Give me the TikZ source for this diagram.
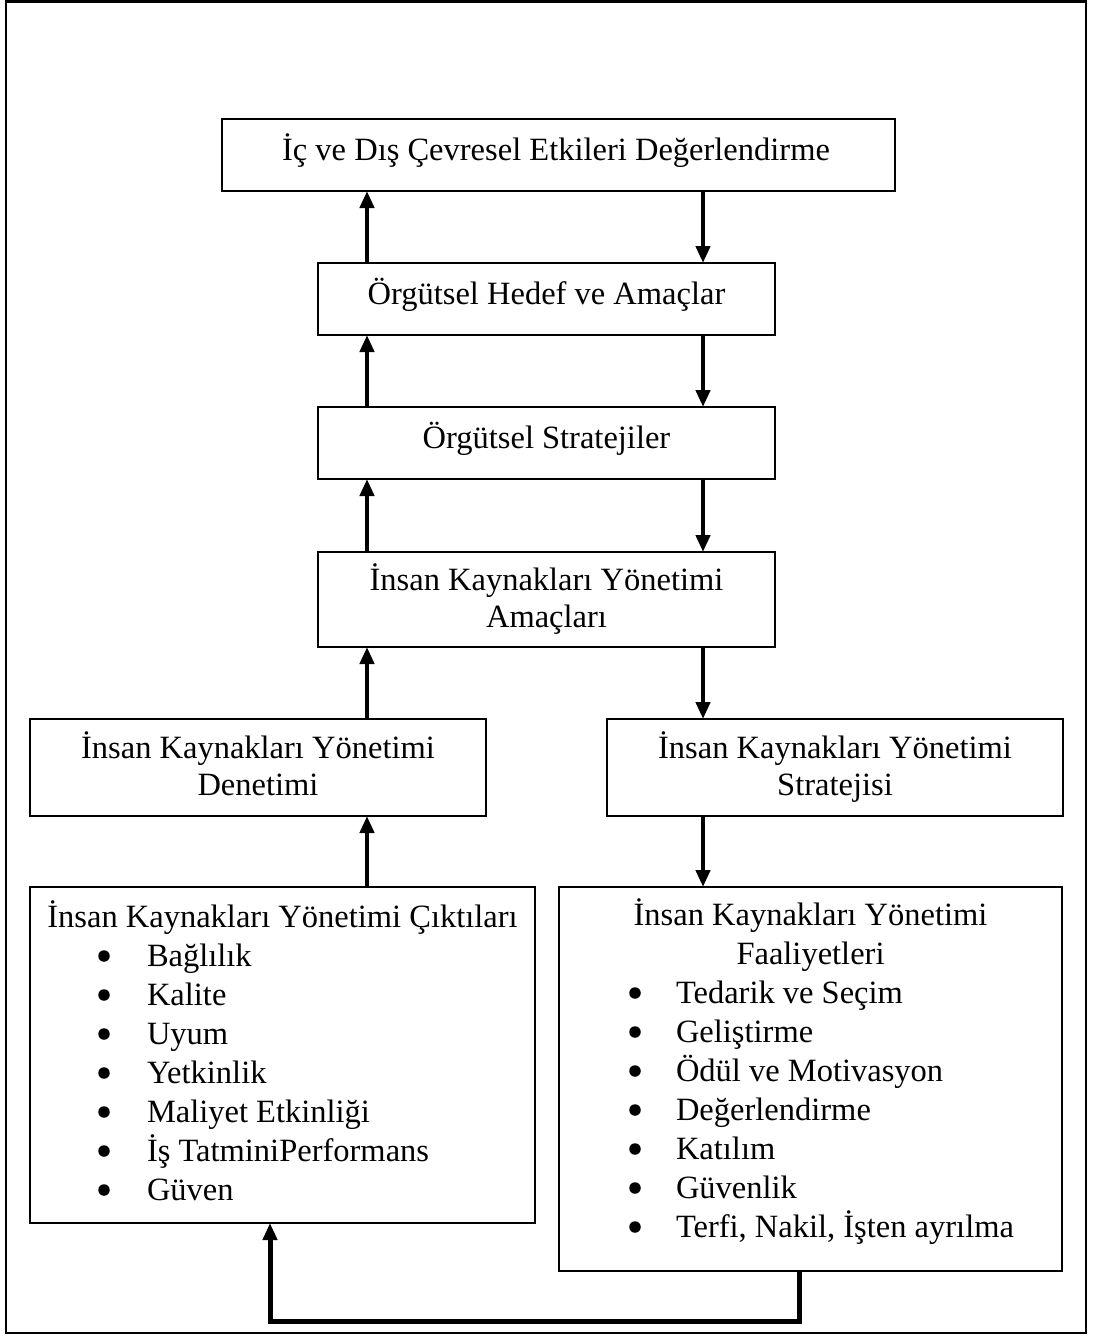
\documentclass[tikz,border=0pt]{standalone}
\usepackage{fontspec}
\setmainfont{Liberation Serif}
\usetikzlibrary{arrows.meta}
\begin{document}
\begin{tikzpicture}[x=1pt,y=-1pt,
  box/.style={draw, line width=2.2pt, inner sep=0pt, outer sep=0pt},
  txt/.style={inner sep=0pt, outer sep=0pt, anchor=base, font=\fontsize{32.5}{37}\selectfont},
  item/.style={inner sep=0pt, outer sep=0pt, anchor=base west, font=\fontsize{32.5}{37}\selectfont},
  dot/.style={circle, fill, inner sep=0pt, minimum size=11.5pt},
  arr/.style={line width=4.5pt, -{Triangle[width=14pt,length=17pt]}},
  loop/.style={line width=5pt, line join=miter, -{Triangle[width=14pt,length=17pt]}}]
\useasboundingbox (0,0) rectangle (1094,1338);
% outer frame
\node[draw, line width=2.2pt, inner sep=0pt, minimum width=1080pt, minimum height=1331.5pt] (frame) at (546,667.25) {};
% boxes
\node[box, minimum width=673pt, minimum height=72pt] (b1) at (558.5,155) {};
\node[box, minimum width=457pt, minimum height=72pt] (b2) at (546.5,299) {};
\node[box, minimum width=457pt, minimum height=72pt] (b3) at (546.5,443) {};
\node[box, minimum width=457pt, minimum height=95pt] (b4) at (546.5,599.5) {};
\node[box, minimum width=456pt, minimum height=97pt] (b5) at (258,767.5) {};
\node[box, minimum width=456pt, minimum height=97pt] (b6) at (835,767.5) {};
\node[box, minimum width=505pt, minimum height=336pt] (b7) at (282.5,1055) {};
\node[box, minimum width=503pt, minimum height=384pt] (b8) at (810.5,1079) {};
% texts
\node[txt] (t1) at (556,160) {İç ve Dış Çevresel Etkileri Değerlendirme};
\node[txt] (t2) at (546.5,304) {Örgütsel Hedef ve Amaçlar};
\node[txt] (t3) at (546.5,448) {Örgütsel Stratejiler};
\node[txt] (t4a) at (546.5,590) {İnsan Kaynakları Yönetimi};
\node[txt] (t4b) at (546.5,627) {Amaçları};
\node[txt] (t5a) at (258,758) {İnsan Kaynakları Yönetimi};
\node[txt] (t5b) at (258,795) {Denetimi};
\node[txt] (t6a) at (835,758) {İnsan Kaynakları Yönetimi};
\node[txt] (t6b) at (835,795) {Stratejisi};
\node[txt] (t7) at (282.5,927) {İnsan Kaynakları Yönetimi Çıktıları};
\node[txt] (t8a) at (810.5,925) {İnsan Kaynakları Yönetimi};
\node[txt] (t8b) at (810.5,964) {Faaliyetleri};
% left list
\foreach \s [count=\i] in {Bağlılık,Kalite,Uyum,Yetkinlik,Maliyet Etkinliği,İş TatminiPerformans,Güven}{
  \node[dot] (ld\i) at (104,{966+39*(\i-1)-10}) {};
  \node[item] (li\i) at (147,{966+39*(\i-1)}) {\s};
}
% right list
\foreach \s [count=\i] in {Tedarik ve Seçim,Geliştirme,Ödül ve Motivasyon,Değerlendirme,Katılım,Güvenlik,{Terfi, Nakil, İşten ayrılma}}{
  \node[dot] (rd\i) at (635,{1003+39*(\i-1)-10}) {};
  \node[item] (ri\i) at (676,{1003+39*(\i-1)}) {\s};
}
% connectors
\coordinate (xl) at (367,0);
\coordinate (xr) at (703,0);
\draw[arr] (b2.north -| xl) -- (b1.south -| xl);
\draw[arr] (b3.north -| xl) -- (b2.south -| xl);
\draw[arr] (b4.north -| xl) -- (b3.south -| xl);
\draw[arr] (b5.north -| xl) -- (b4.south -| xl);
\draw[arr] (b7.north -| xl) -- (b5.south -| xl);
\draw[arr] (b1.south -| xr) -- (b2.north -| xr);
\draw[arr] (b2.south -| xr) -- (b3.north -| xr);
\draw[arr] (b3.south -| xr) -- (b4.north -| xr);
\draw[arr] (b4.south -| xr) -- (b6.north -| xr);
\draw[arr] (b6.south -| xr) -- (b8.north -| xr);
\coordinate (cr) at (799,1321);
\coordinate (cl) at (270,1321);
\draw[loop] (b8.south -| cr) -- (cr) -- (cl) -- (b7.south -| cl);
\end{tikzpicture}
\end{document}
